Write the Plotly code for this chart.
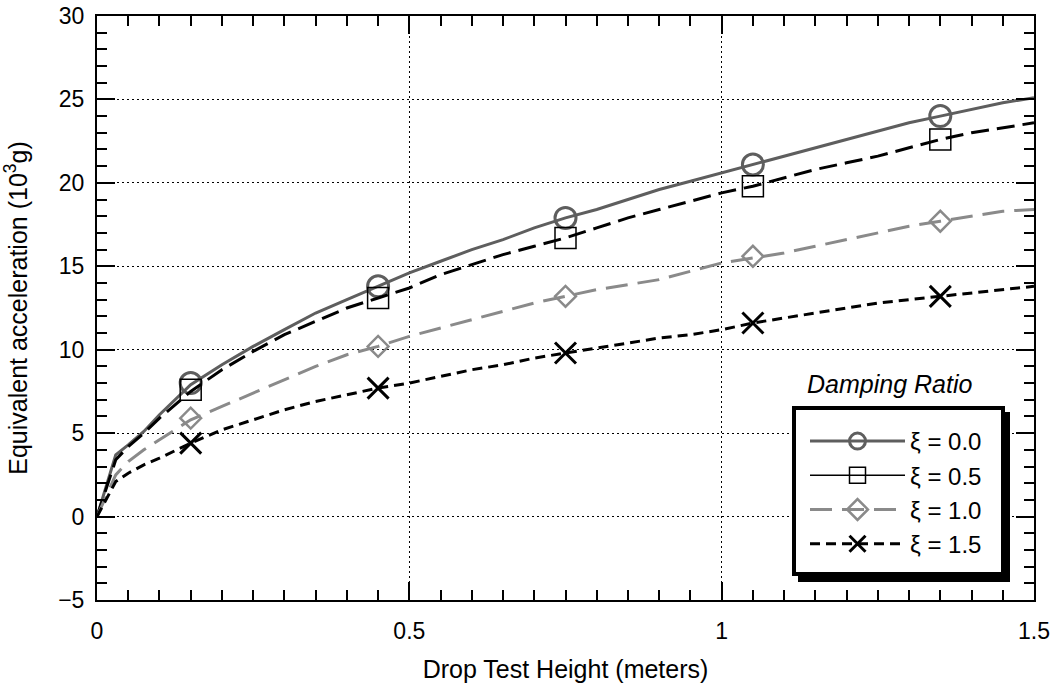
import plotly.graph_objects as go

# ---- data ----
x_line = [0, 0.03, 0.05, 0.075, 0.1, 0.15, 0.2, 0.25, 0.3, 0.35, 0.4, 0.45, 0.5, 0.55, 0.6,
          0.65, 0.7, 0.75, 0.8, 0.85, 0.9, 0.95, 1.0, 1.05, 1.1, 1.15, 1.2, 1.25, 1.3, 1.35,
          1.4, 1.45, 1.5]
y_xi00 = [0, 3.7, 4.3, 5.1, 6.1, 7.9, 9.1, 10.2, 11.2, 12.2, 13.0, 13.8, 14.6, 15.3, 16.0,
          16.6, 17.3, 17.9, 18.4, 19.0, 19.6, 20.1, 20.6, 21.1, 21.6, 22.1, 22.6, 23.1, 23.6, 24.0,
          24.4, 24.8, 25.1]
y_xi05 = [0, 3.4, 4.2, 5.0, 5.9, 7.5, 8.8, 9.9, 10.9, 11.7, 12.5, 13.1, 13.7, 14.5, 15.1,
          15.7, 16.2, 16.7, 17.3, 17.9, 18.4, 18.9, 19.4, 19.8, 20.3, 20.8, 21.2, 21.6, 22.1, 22.6,
          23.0, 23.3, 23.6]
y_xi10 = [0, 2.5, 3.3, 4.0, 4.6, 5.8, 6.6, 7.4, 8.2, 9.0, 9.7, 10.2, 10.8, 11.3, 11.8,
          12.3, 12.8, 13.2, 13.6, 13.9, 14.2, 14.7, 15.2, 15.5, 15.8, 16.2, 16.6, 17.0, 17.4, 17.7,
          18.0, 18.3, 18.4]
y_xi15 = [0, 2.1, 2.6, 3.1, 3.5, 4.4, 5.2, 5.8, 6.4, 6.9, 7.3, 7.7, 8.0, 8.4, 8.8,
          9.1, 9.5, 9.8, 10.1, 10.4, 10.7, 10.9, 11.2, 11.6, 11.9, 12.2, 12.5, 12.8, 13.0, 13.2,
          13.4, 13.6, 13.8]

x_mark = [0.15, 0.45, 0.75, 1.05, 1.35]
m_xi00 = [8.0, 13.8, 17.9, 21.1, 24.0]
m_xi05 = [7.6, 13.1, 16.7, 19.8, 22.6]
m_xi10 = [5.9, 10.2, 13.2, 15.6, 17.7]
m_xi15 = [4.4, 7.7, 9.8, 11.6, 13.2]

x_ticks = [0, 0.5, 1, 1.5]
x_ticktext = ["0", "0.5", "1", "1.5"]
labels = ["\u03be = 0.0", "\u03be = 0.5", "\u03be = 1.0", "\u03be = 1.5"]

FONT = "Liberation Sans, Arial, Helvetica, sans-serif"
GRAY_D = "#5e5e5e"
GRAY_L = "#8a8a8a"

series = [
    (y_xi00, m_xi00, dict(color=GRAY_D, width=3, dash="solid"),
     dict(symbol="circle-open", size=21, color=GRAY_D, line=dict(width=3, color=GRAY_D)),
     dict(color=GRAY_D, width=3, dash="solid")),
    (y_xi05, m_xi05, dict(color="black", width=3, dash="18px,8px"),
     dict(symbol="square-open", size=21, color="black", line=dict(width=1.5, color="black")),
     dict(color="black", width=1.5, dash="solid")),
    (y_xi10, m_xi10, dict(color=GRAY_L, width=3, dash="22px,10px"),
     dict(symbol="diamond-open", size=16, color=GRAY_L, line=dict(width=2.5, color=GRAY_L)),
     dict(color=GRAY_L, width=3, dash="22px,10px")),
    (y_xi15, m_xi15, dict(color="black", width=3, dash="10px,6px"),
     dict(symbol="x-thin-open", size=21, color="black", line=dict(width=3, color="black")),
     dict(color="black", width=3, dash="10px,6px")),
]

fig = go.Figure()
for i, (yl, ym, lsty, msty, legsty) in enumerate(series):
    fig.add_trace(go.Scatter(x=x_line, y=yl, mode="lines", line=lsty,
                             showlegend=False, hoverinfo="skip"))
    fig.add_trace(go.Scatter(x=x_mark, y=ym, mode="markers", marker=msty,
                             showlegend=False))
    # legend proxy
    fig.add_trace(go.Scatter(x=[None], y=[None], mode="lines+markers", name=labels[i],
                             line=legsty, marker=msty, legendgroup=f"g{i}",
                             showlegend=True))

# geometry helpers (pixel -> paper)
L, R, T, B = 97, 16, 16, 90
W, H = 1050, 690
PW, PH = W - L - R, H - T - B


def px(xp):
    return (xp - L) / PW


def py(yp):
    return (H - B - yp) / PH


shapes = [
    # legend shadow
    dict(type="rect", xref="paper", yref="paper", layer="above",
         x0=px(798), x1=px(1010), y0=py(582), y1=py(412),
         fillcolor="black", line=dict(width=0)),
    # legend box
    dict(type="rect", xref="paper", yref="paper", layer="above",
         x0=px(794), x1=px(1003), y0=py(574), y1=py(408),
         fillcolor="white", line=dict(width=4, color="black")),
]

axis_common = dict(
    showline=True, linecolor="black", linewidth=2, mirror="allticks",
    ticks="inside", ticklen=18, tickwidth=1.5, tickcolor="black",
    showgrid=True, gridcolor="black", griddash="2px,3px", gridwidth=1,
    zeroline=False, automargin=False,
    tickfont=dict(family=FONT, size=23, color="black"),
)

fig.update_xaxes(
    range=[0, 1.5], tickvals=x_ticks, ticktext=x_ticktext, ticklabelstandoff=9,
    minor=dict(dtick=0.05, ticklen=10, tickwidth=1.5, ticks="inside", tickcolor="black",
               showgrid=False),
    title=dict(text="Drop Test Height (meters)", font=dict(family=FONT, size=25, color="black"),
               standoff=18),
    **axis_common,
)
fig.update_yaxes(
    range=[-5, 30], dtick=5, tick0=0, ticklabelstandoff=6,
    minor=dict(dtick=1, ticklen=10, tickwidth=1.5, ticks="inside", tickcolor="black",
               showgrid=False),
    title=dict(text="Equivalent acceleration (10<sup>3</sup>g)",
               font=dict(family=FONT, size=25, color="black"), standoff=24),
    **axis_common,
)

fig.update_layout(
    width=W, height=H,
    margin=dict(l=L, r=R, t=T, b=B, pad=0),
    paper_bgcolor="white", plot_bgcolor="white",
    font=dict(family=FONT, color="black"),
    showlegend=True,
    legend=dict(x=px(805), y=py(419), xanchor="left", yanchor="top",
                bgcolor="rgba(0,0,0,0)", borderwidth=0,
                font=dict(family=FONT, size=24, color="black"),
                itemwidth=95, tracegroupgap=0, itemclick=False),
    shapes=shapes,
    annotations=[dict(text="<i>Damping Ratio</i>", xref="paper", yref="paper",
                      x=px(889), y=py(384), xanchor="center", yanchor="middle",
                      showarrow=False, font=dict(family=FONT, size=25, color="black"))],
)

fig.write_html("out.html")
